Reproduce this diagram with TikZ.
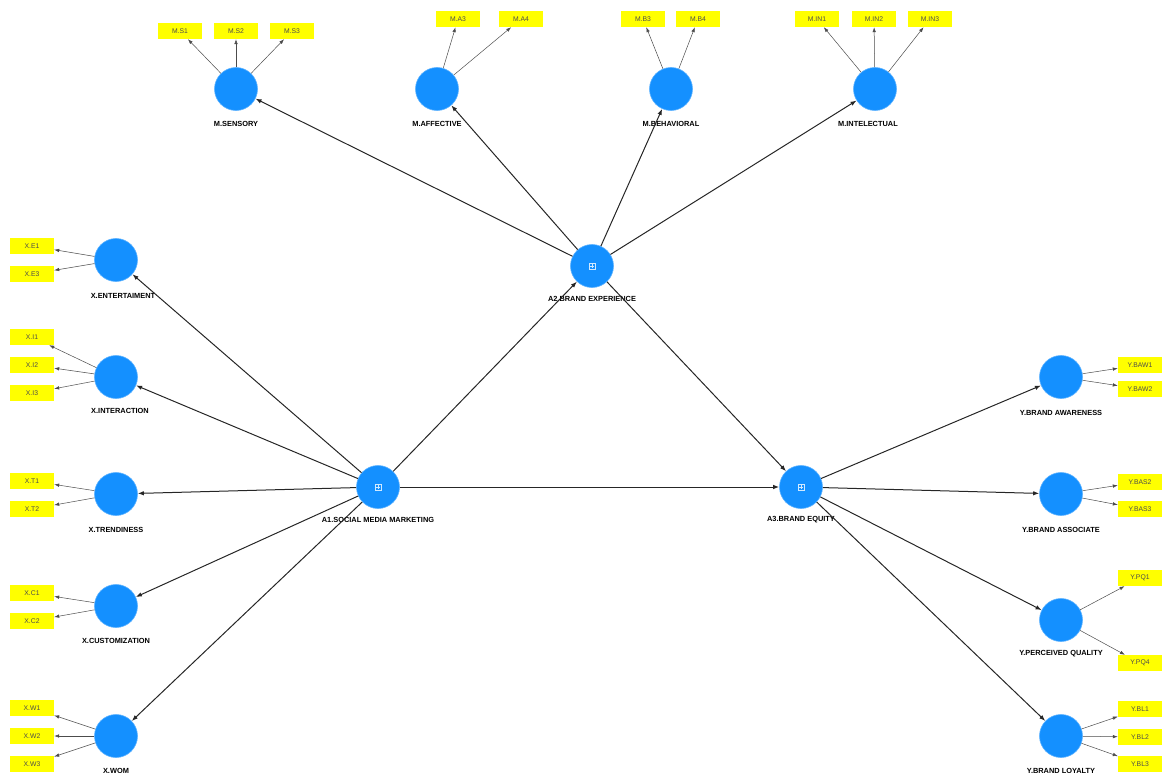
\documentclass[tikz,border=0pt]{standalone}
\usepackage{fontspec}
\setmainfont{Liberation Sans}
\usetikzlibrary{arrows.meta}
\definecolor{lv}{RGB}{20,144,255}
\definecolor{ind}{RGB}{255,255,0}
\tikzset{
  lvnode/.style={circle,fill=lv,draw=lv!70!white,line width=0.6pt,minimum size=43pt,inner sep=0pt},
  indnode/.style={rectangle,fill=ind,minimum width=44pt,minimum height=16pt,inner sep=0pt,font=\fontsize{6.8}{7}\selectfont,text=black!70},
  lvlabel/.style={font=\bfseries\fontsize{7.4}{8}\selectfont,inner sep=0pt},
  struct/.style={-{Latex[length=6pt,width=4.5pt]},line width=1pt,black!85},
  meas/.style={-{Latex[length=5pt,width=3.5pt]},line width=0.5pt,black!70},
  hoicon/.style={draw=white!80!lv,line width=0.5pt,minimum size=6pt,inner sep=0pt}
}
\begin{document}
\begin{tikzpicture}[x=1pt,y=-1pt]
\useasboundingbox (0,0) rectangle (1165,773);
% latent variables
\node[lvnode] (ms) at (236,89) {};
\node[lvnode] (ma) at (437,89) {};
\node[lvnode] (mb) at (671,89) {};
\node[lvnode] (mi) at (875,89) {};
\node[lvnode] (a2) at (592,266) {};
\node[lvnode] (a1) at (378,487) {};
\node[lvnode] (a3) at (801,487) {};
\node[lvnode] (xe) at (116,260) {};
\node[lvnode] (xi) at (116,377) {};
\node[lvnode] (xt) at (116,494) {};
\node[lvnode] (xc) at (116,606) {};
\node[lvnode] (xw) at (116,736) {};
\node[lvnode] (yaw) at (1061,377) {};
\node[lvnode] (yas) at (1061,494) {};
\node[lvnode] (ypq) at (1061,620) {};
\node[lvnode] (ybl) at (1061,736) {};
% higher-order icons
\foreach \n in {a1,a2,a3}{
  \node[hoicon] (\n i) at (\n) {};
  \draw[white!80!lv,line width=0.5pt] ([xshift=-2pt]\n i.center) -- ([xshift=2pt]\n i.center);
  \draw[white!80!lv,line width=0.5pt] ([yshift=-2pt]\n i.center) -- ([yshift=2pt]\n i.center);
}
% labels
\node[lvlabel] (lms) at (236,124) {M.SENSORY};
\node[lvlabel] (lma) at (437,124) {M.AFFECTIVE};
\node[lvlabel] (lmb) at (671,124) {M.BEHAVIORAL};
\node[lvlabel] (lmi) at (868,124) {M.INTELECTUAL};
\node[lvlabel] (la2) at (592,299) {A2.BRAND EXPERIENCE};
\node[lvlabel] (la1) at (378,520) {A1.SOCIAL MEDIA MARKETING};
\node[lvlabel] (la3) at (801,520) {A3.BRAND EQUITY};
\node[lvlabel] (lxe) at (123,296) {X.ENTERTAIMENT};
\node[lvlabel] (lxi) at (120,411) {X.INTERACTION};
\node[lvlabel] (lxt) at (116,530) {X.TRENDINESS};
\node[lvlabel] (lxc) at (116,641) {X.CUSTOMIZATION};
\node[lvlabel] (lxw) at (116,771) {X.WOM};
\node[lvlabel] (lyaw) at (1061,413) {Y.BRAND AWARENESS};
\node[lvlabel] (lyas) at (1061,530) {Y.BRAND ASSOCIATE};
\node[lvlabel] (lypq) at (1061,654) {Y.PERCEIVED QUALITY};
\node[lvlabel] (lybl) at (1061,771) {Y.BRAND LOYALTY};
% indicators
\node[indnode] (ms1) at (180,31) {M.S1};
\node[indnode] (ms2) at (236,31) {M.S2};
\node[indnode] (ms3) at (292,31) {M.S3};
\node[indnode] (ma3) at (458,19) {M.A3};
\node[indnode] (ma4) at (521,19) {M.A4};
\node[indnode] (mb3) at (643,19) {M.B3};
\node[indnode] (mb4) at (698,19) {M.B4};
\node[indnode] (mi1) at (817,19) {M.IN1};
\node[indnode] (mi2) at (874,19) {M.IN2};
\node[indnode] (mi3) at (930,19) {M.IN3};
\node[indnode] (xe1) at (32,246) {X.E1};
\node[indnode] (xe3) at (32,274) {X.E3};
\node[indnode] (xi1) at (32,337) {X.I1};
\node[indnode] (xi2) at (32,365) {X.I2};
\node[indnode] (xi3) at (32,393) {X.I3};
\node[indnode] (xt1) at (32,481) {X.T1};
\node[indnode] (xt2) at (32,509) {X.T2};
\node[indnode] (xc1) at (32,593) {X.C1};
\node[indnode] (xc2) at (32,621) {X.C2};
\node[indnode] (xw1) at (32,708) {X.W1};
\node[indnode] (xw2) at (32,736) {X.W2};
\node[indnode] (xw3) at (32,764) {X.W3};
\node[indnode] (yaw1) at (1140,365) {Y.BAW1};
\node[indnode] (yaw2) at (1140,389) {Y.BAW2};
\node[indnode] (yas2) at (1140,482) {Y.BAS2};
\node[indnode] (yas3) at (1140,509) {Y.BAS3};
\node[indnode] (ypq1) at (1140,578) {Y.PQ1};
\node[indnode] (ypq4) at (1140,663) {Y.PQ4};
\node[indnode] (ybl1) at (1140,709) {Y.BL1};
\node[indnode] (ybl2) at (1140,737) {Y.BL2};
\node[indnode] (ybl3) at (1140,764) {Y.BL3};
% structural paths
\draw[struct] (a1) -- (a2);
\draw[struct] (a1) -- (a3);
\draw[struct] (a2) -- (a3);
\foreach \t in {ms,ma,mb,mi} \draw[struct] (a2) -- (\t);
\foreach \t in {xe,xi,xt,xc,xw} \draw[struct] (a1) -- (\t);
\foreach \t in {yaw,yas,ypq,ybl} \draw[struct] (a3) -- (\t);
% measurement paths
\foreach \s/\t in {ms/ms1,ms/ms2,ms/ms3,ma/ma3,ma/ma4,mb/mb3,mb/mb4,mi/mi1,mi/mi2,mi/mi3,
  xe/xe1,xe/xe3,xi/xi1,xi/xi2,xi/xi3,xt/xt1,xt/xt2,xc/xc1,xc/xc2,xw/xw1,xw/xw2,xw/xw3,
  yaw/yaw1,yaw/yaw2,yas/yas2,yas/yas3,ypq/ypq1,ypq/ypq4,ybl/ybl1,ybl/ybl2,ybl/ybl3}
  \draw[meas] (\s) -- (\t);
\end{tikzpicture}
\end{document}
